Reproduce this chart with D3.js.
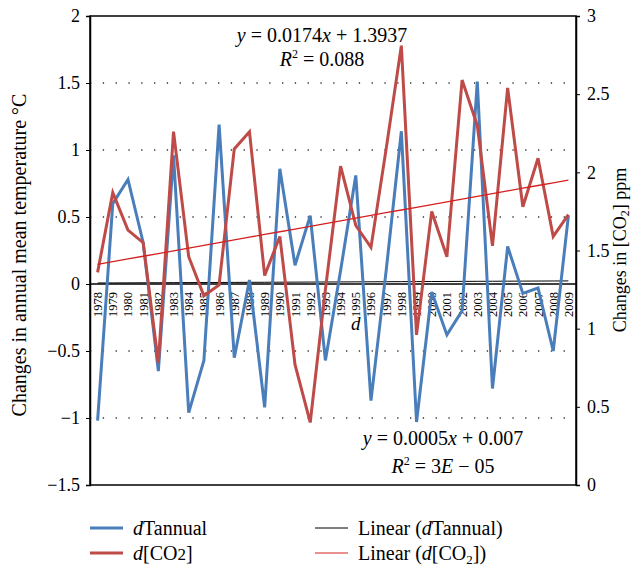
<!DOCTYPE html>
<html>
<head>
<meta charset="utf-8">
<script src="https://cdn.jsdelivr.net/npm/d3@7"></script>
<style>
  body { margin: 0; background: #fff; }
  text { font-family: "Liberation Serif", "DejaVu Serif", serif; fill: #000; }
</style>
</head>
<body>
<svg id="chart"></svg>
<script>
const years = d3.range(1978, 2010);
const dTannual = [-1.02, 0.60, 0.78, 0.31, -0.65, 0.96, -0.96, -0.57, 1.19, -0.55,
                  0.03, -0.92, 0.86, 0.14, 0.51, -0.57, 0.10, 0.81, -0.87, 0.10,
                  1.14, -1.03, -0.06, -0.38, -0.20, 1.51, -0.78, 0.28, -0.07, -0.03,
                  -0.50, 0.51];
const dCO2 = [1.36, 1.87, 1.63, 1.55, 0.78, 2.26, 1.46, 1.21, 1.28, 2.15,
              2.26, 1.34, 1.59, 0.77, 0.40, 1.25, 2.04, 1.66, 1.52, 2.15,
              2.81, 0.96, 1.75, 1.46, 2.59, 2.30, 1.53, 2.54, 1.78, 2.09,
              1.59, 1.73];
const leftTicks = [-1.5, -1, -0.5, 0, 0.5, 1, 1.5, 2];
const rightTicks = [0, 0.5, 1, 1.5, 2, 2.5, 3];
const gridTicks = [-1, -0.5, 0.5, 1, 1.5];
const trendT = [0.0005, 0.007];
const trendC = [0.0174, 1.3937];

const width = 632, height = 569,
      pLeft = 90, pRight = 576, pTop = 16, pBottom = 485;

const svg = d3.select("#chart").attr("width", width).attr("height", height);

const x = d3.scaleBand().domain(years).range([pLeft, pRight]);
const yL = d3.scaleLinear().domain([-1.5, 2]).range([pBottom, pTop]);
const yR = d3.scaleLinear().domain([0, 3]).range([pBottom, pTop]);
const cx = (i) => x(years[i]) + x.bandwidth() / 2;
const fmt = (d) => d < 0 ? "\u2212" + Math.abs(d) : String(d);

const blue = "#4a7ebb", red = "#be4b48";

// dotted gridlines
svg.append("g").selectAll("line")
    .data(gridTicks)
    .enter().append("line")
      .attr("x1", pLeft).attr("x2", pRight)
      .attr("y1", (d) => yL(d)).attr("y2", (d) => yL(d))
      .attr("stroke", "#333").attr("stroke-width", 1.3)
      .attr("stroke-dasharray", "1.3,11.5");

// frame
svg.append("rect")
    .attr("x", pLeft).attr("y", pTop)
    .attr("width", pRight - pLeft).attr("height", pBottom - pTop)
    .attr("fill", "none").attr("stroke", "#000").attr("stroke-width", 1.5);

// axes
const gL = svg.append("g")
    .attr("transform", `translate(${pLeft},0)`)
    .call(d3.axisLeft(yL).tickValues(leftTicks).tickSize(4).tickPadding(6).tickFormat(fmt));
const gR = svg.append("g")
    .attr("transform", `translate(${pRight},0)`)
    .call(d3.axisRight(yR).tickValues(rightTicks).tickSize(4).tickPadding(7).tickFormat(fmt));
[gL, gR].forEach((g) => {
    g.select(".domain").attr("stroke-width", 1.5);
    g.selectAll("text").style("font-size", "18px")
        .style("font-family", "'Liberation Serif', serif");
});

// zero line
svg.append("line")
    .attr("x1", pLeft).attr("x2", pRight)
    .attr("y1", yL(0)).attr("y2", yL(0))
    .attr("stroke", "#000").attr("stroke-width", 1.6);

// year labels
svg.append("g").selectAll("text")
    .data(years)
    .enter().append("text")
      .attr("transform", (d, i) => `translate(${cx(i) + 4.5},${yL(0) + 8}) rotate(-90)`)
      .attr("text-anchor", "end")
      .style("font-size", "12.5px")
      .text((d) => d);

svg.append("text")
    .attr("x", 351).attr("y", 330)
    .style("font-size", "19px").style("font-style", "italic")
    .text("d");

// trend lines
const trendLine = (coef, scale) => d3.line()
    .x((d, i) => cx(i))
    .y((d, i) => scale(coef[0] * (i + 1) + coef[1]));

svg.append("path")
    .datum(years)
    .attr("d", trendLine(trendT, yL))
    .attr("fill", "none").attr("stroke", "#000").attr("stroke-width", 1);

// series
const seriesLine = (scale) => d3.line()
    .x((d, i) => cx(i))
    .y((d) => scale(d));

svg.append("path")
    .datum(dTannual)
    .attr("d", seriesLine(yL))
    .attr("fill", "none").attr("stroke", blue).attr("stroke-width", 3)
    .attr("stroke-linejoin", "miter");

svg.append("path")
    .datum(dCO2)
    .attr("d", seriesLine(yR))
    .attr("fill", "none").attr("stroke", red).attr("stroke-width", 3)
    .attr("stroke-linejoin", "miter");

svg.append("path")
    .datum(years)
    .attr("d", trendLine(trendC, yR))
    .attr("fill", "none").attr("stroke", "#d42020").attr("stroke-width", 1.3);

// equations
function equation(cxp, y1, gap, coefText, r2Text) {
    const t1 = svg.append("text").attr("x", cxp).attr("y", y1)
        .attr("text-anchor", "middle").style("font-size", "20px");
    t1.append("tspan").style("font-style", "italic").text("y");
    t1.append("tspan").text(" = " + coefText[0]);
    t1.append("tspan").style("font-style", "italic").text("x");
    t1.append("tspan").text(" + " + coefText[1]);
    const t2 = svg.append("text").attr("x", cxp).attr("y", y1 + gap)
        .attr("text-anchor", "middle").style("font-size", "20px");
    t2.append("tspan").style("font-style", "italic").text("R");
    t2.append("tspan").attr("dy", -8).style("font-size", "12px").text("2");
    t2.append("tspan").attr("dy", 8).text(" = ");
    r2Text(t2);
}
equation(322, 42, 24, ["0.0174", "1.3937"], (t) => t.append("tspan").text("0.088"));
equation(443, 445, 28, ["0.0005", "0.007"], (t) => {
    t.append("tspan").text("3");
    t.append("tspan").style("font-style", "italic").text("E");
    t.append("tspan").text(" \u2212 05");
});

// axis titles
svg.append("text")
    .attr("transform", `translate(26,255) rotate(-90)`)
    .attr("text-anchor", "middle").style("font-size", "20px")
    .text("Changes in annual mean temperature \u00b0C");

const rt = svg.append("text")
    .attr("transform", `translate(626,250) rotate(-90)`)
    .attr("text-anchor", "middle").style("font-size", "18px");
rt.append("tspan").text("Changes in [CO");
rt.append("tspan").attr("dy", 3).style("font-size", "12px").text("2");
rt.append("tspan").attr("dy", -3).text("] ppm");

// legend
const legend = [
    {x: 90, y: 528, color: blue, w: 3, parts: [["d", true], ["Tannual", false]]},
    {x: 90, y: 553, color: red, w: 3, parts: [["d", true], ["[CO", false], ["2", false, "sub0"], ["]", false]]},
    {x: 315, y: 528, color: "#000", w: 1, parts: [["Linear (", false], ["d", true], ["Tannual)", false]]},
    {x: 315, y: 553, color: "#d42020", w: 1, parts: [["Linear (", false], ["d", true], ["[CO", false], ["2", false, "sub"], ["])", false, "up"]]}
];
const lg = svg.append("g").selectAll("g")
    .data(legend)
    .enter().append("g")
      .attr("transform", (d) => `translate(${d.x},${d.y})`);
lg.append("line")
    .attr("x1", 0).attr("x2", 33)
    .attr("stroke", (d) => d.color).attr("stroke-width", (d) => d.w);
lg.each(function(d) {
    const t = d3.select(this).append("text").attr("x", 43).attr("y", 7)
        .style("font-size", "20px");
    d.parts.forEach((p) => {
        const s = t.append("tspan").text(p[0]);
        if (p[1]) s.style("font-style", "italic");
        if (p[2] === "sub") s.attr("dy", 4).style("font-size", "13px");
        if (p[2] === "sub0") s.style("font-size", "17px");
        if (p[2] === "up") s.attr("dy", -4);
    });
});
</script>
</body>
</html>
